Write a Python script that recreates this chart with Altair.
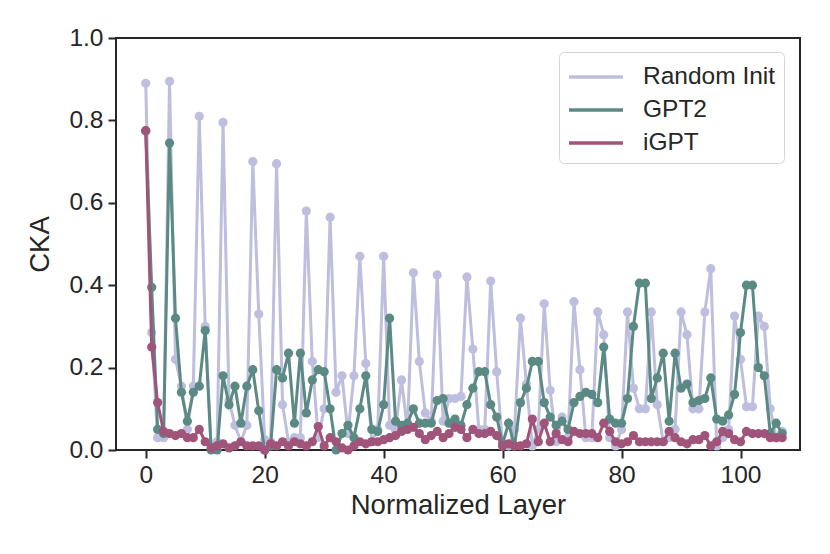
import altair as alt
import pandas as pd

layers_n = list(range(108))

random_init = [
    0.89, 0.285, 0.03, 0.03, 0.895, 0.22, 0.155, 0.05, 0.155, 0.81,
    0.30, 0.01, 0.02, 0.795, 0.12, 0.06, 0.02, 0.06, 0.70, 0.33,
    0.025, 0.02, 0.695, 0.11, 0.02, 0.03, 0.03, 0.58, 0.215, 0.03,
    0.10, 0.565, 0.14, 0.18, 0.04, 0.18, 0.47, 0.21, 0.02, 0.05,
    0.47, 0.06, 0.05, 0.17, 0.05, 0.43, 0.215, 0.09, 0.07, 0.425,
    0.07, 0.125, 0.125, 0.13, 0.42, 0.245, 0.05, 0.05, 0.41, 0.19,
    0.01, 0.01, 0.05, 0.32, 0.16, 0.01, 0.05, 0.355, 0.145, 0.02,
    0.08, 0.03, 0.36, 0.195, 0.03, 0.03, 0.335, 0.28, 0.03, 0.01,
    0.05, 0.335, 0.15, 0.10, 0.10, 0.335, 0.11, 0.02, 0.03, 0.05,
    0.335, 0.28, 0.10, 0.10, 0.335, 0.44, 0.01, 0.03, 0.05, 0.325,
    0.22, 0.105, 0.105, 0.325, 0.30, 0.10, 0.03, 0.045,
]

gpt2 = [
    0.775, 0.395, 0.05, 0.04, 0.745, 0.32, 0.14, 0.07, 0.14, 0.155,
    0.29, 0.0, 0.0, 0.18, 0.11, 0.155, 0.065, 0.155, 0.195, 0.095,
    0.0, 0.01, 0.195, 0.175, 0.235, 0.065, 0.235, 0.09, 0.17, 0.195,
    0.19, 0.10, 0.0, 0.04, 0.06, 0.03, 0.10, 0.18, 0.05, 0.045,
    0.11, 0.32, 0.07, 0.06, 0.065, 0.10, 0.065, 0.065, 0.065, 0.12,
    0.125, 0.065, 0.075, 0.06, 0.11, 0.15, 0.19, 0.19, 0.11, 0.08,
    0.015, 0.065, 0.01, 0.115, 0.15, 0.215, 0.215, 0.115, 0.08, 0.06,
    0.07, 0.05, 0.115, 0.13, 0.14, 0.135, 0.115, 0.25, 0.075, 0.065,
    0.065, 0.125, 0.30, 0.405, 0.405, 0.125, 0.175, 0.235, 0.07, 0.235,
    0.15, 0.16, 0.115, 0.12, 0.125, 0.175, 0.075, 0.07, 0.085, 0.135,
    0.285, 0.40, 0.40, 0.20, 0.18, 0.04, 0.065, 0.04,
]

igpt = [
    0.775, 0.25, 0.115, 0.045, 0.04, 0.035, 0.04, 0.03, 0.03, 0.05,
    0.02, 0.005, 0.01, 0.015, 0.005, 0.01, 0.02, 0.01, 0.01, 0.01,
    0.0, 0.015, 0.01, 0.02, 0.01, 0.02, 0.015, 0.01, 0.02, 0.057,
    0.01, 0.03, 0.02, 0.005, 0.0, 0.01, 0.02, 0.015, 0.02, 0.02,
    0.025, 0.03, 0.035, 0.045, 0.05, 0.055, 0.04, 0.025, 0.035, 0.045,
    0.03, 0.04, 0.055, 0.05, 0.03, 0.05, 0.04, 0.04, 0.045, 0.035,
    0.01, 0.015, 0.01, 0.01, 0.015, 0.075, 0.02, 0.065, 0.02, 0.04,
    0.025, 0.02, 0.045, 0.04, 0.04, 0.04, 0.03, 0.065, 0.045, 0.02,
    0.015, 0.02, 0.035, 0.02, 0.02, 0.02, 0.02, 0.02, 0.045, 0.03,
    0.02, 0.015, 0.025, 0.025, 0.035, 0.01, 0.02, 0.045, 0.04, 0.025,
    0.02, 0.045, 0.04, 0.04, 0.04, 0.03, 0.03, 0.03,
]

series_names = ["Random Init", "GPT2", "iGPT"]
series_colors = ["#bebedf", "#5b8a84", "#a0547a"]
series_values = [random_init, gpt2, igpt]

x_ticks = [0, 20, 40, 60, 80, 100]
y_ticks = [0.0, 0.2, 0.4, 0.6, 0.8, 1.0]

rows = []
for name, vals in zip(series_names, series_values):
    for n, v in zip(layers_n, vals):
        rows.append({"layer": n, "cka": v, "model": name})
df = pd.DataFrame(rows)

FONT = "Liberation Sans"
TXT = "#262626"

x_enc = alt.X(
    "layer:Q",
    scale=alt.Scale(domain=[-5, 110], nice=False, zero=False),
    axis=alt.Axis(values=x_ticks, title="Normalized Layer", format="d"),
)
y_enc = alt.Y(
    "cka:Q",
    scale=alt.Scale(domain=[0, 1.0], nice=False),
    axis=alt.Axis(values=y_ticks, title="CKA", format=".1f"),
)
color_enc = alt.Color(
    "model:N",
    scale=alt.Scale(domain=series_names, range=series_colors),
    legend=alt.Legend(
        title=None,
        orient="none",
        legendX=443,
        legendY=14,
        symbolType="M-1,0H2.6",
        symbolStrokeWidth=3.5,
        symbolSize=900,
        labelFontSize=24.5,
        labelFont=FONT,
        labelColor=TXT,
        labelOffset=42,
        padding=8,
        rowPadding=4,
        strokeColor="#d6d6d6",
        cornerRadius=5,
        fillColor="white",
    ),
)

base = alt.Chart(df)
layer_list = []
for name, col in zip(series_names, series_colors):
    sub = base.transform_filter(alt.datum.model == name)
    layer_list.append(
        sub.mark_line(strokeWidth=3).encode(x=x_enc, y=y_enc, color=color_enc)
    )
    layer_list.append(
        sub.mark_point(filled=True, size=85, opacity=1, color=col).encode(
            x=x_enc, y=y_enc
        )
    )

chart = (
    alt.layer(*layer_list)
    .properties(
        width=684,
        height=412,
        autosize=alt.AutoSizeParams(type="none"),
        padding={"left": 108, "top": 30, "right": 22, "bottom": 90},
    )
    .configure_view(stroke=TXT, strokeWidth=2)
    .configure_axis(
        domain=False,
        grid=False,
        ticks=True,
        tickSize=8,
        tickWidth=2,
        tickColor=TXT,
        labelFont=FONT,
        labelFontSize=24.5,
        labelColor=TXT,
        labelPadding=5,
        titleFont=FONT,
        titleFontSize=27.5,
        titleFontWeight="normal",
        titleColor=TXT,
    )
    .configure_axisX(titlePadding=5)
    .configure_axisY(titlePadding=14)
)

chart.save("out.html", embed_options={"renderer": "svg", "actions": False})
